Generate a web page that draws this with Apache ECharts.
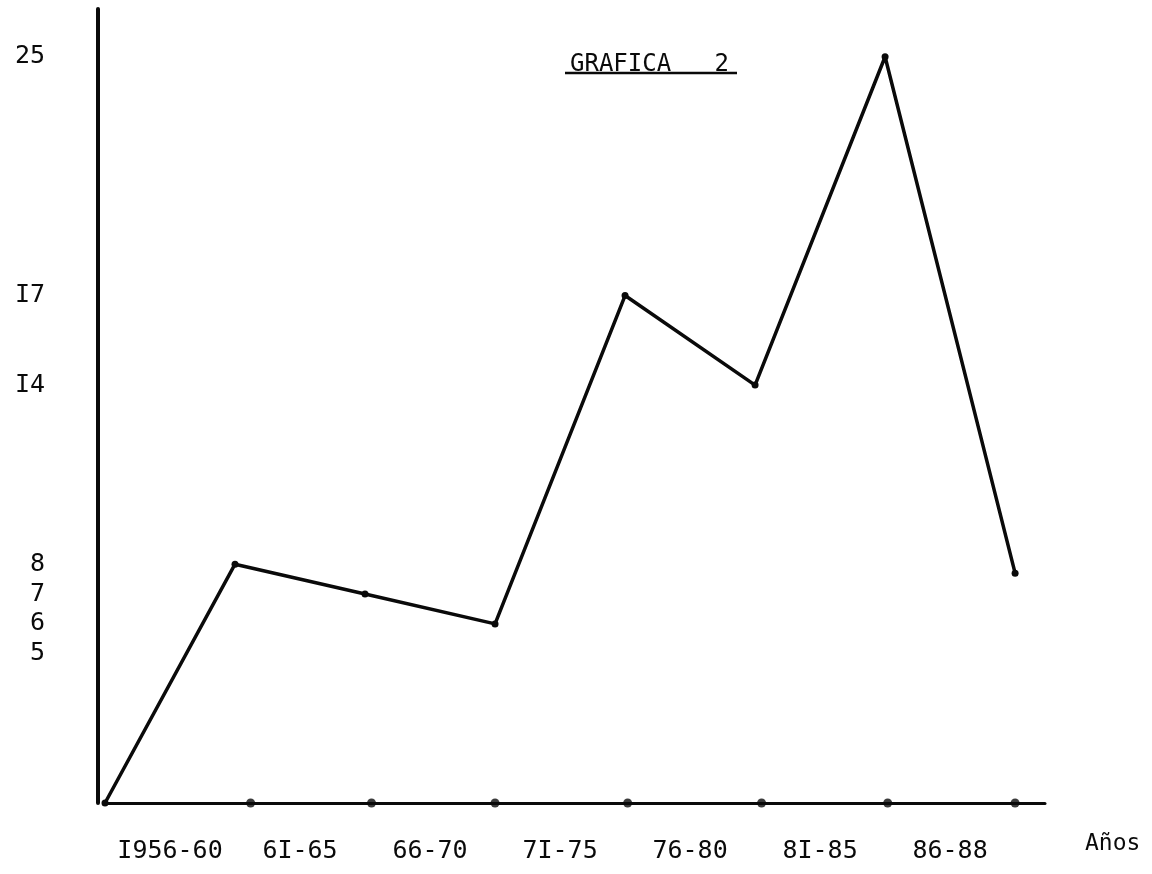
<!DOCTYPE html>
<html>
<head>
<meta charset="utf-8">
<script src="https://cdn.jsdelivr.net/npm/echarts@6/dist/echarts.min.js"></script>
<style>
html,body{margin:0;padding:0;background:#fff;}
#chart{width:1152px;height:874px;}
</style>
</head>
<body>
<div id="chart"></div>
<script>
// ---- data ----
const titleText = 'GRAFICA   2';
const periods = ['I956-60', '6I-65', '66-70', '7I-75', '76-80', '8I-85', '86-88'];
const periodLabelPos = [0.5, 1.5, 2.5, 3.5, 4.5, 5.5, 6.5];
const startValue = 0;
const values = [8, 7, 6, 17, 14, 25, 7.7];
const axisDotPos = [1.12, 2.05, 3.0, 4.02, 5.05, 6.02, 7.0];
const yTickValues = [5, 6, 7, 8, 14, 17, 25];
const yTickLabels = ['5', '6', '7', '8', 'I4', 'I7', '25'];
const xName = 'Años';

const FONT = 'DejaVu Sans Mono';
const INK = '#0a0a0a';

const lineData = [[0, startValue]].concat(values.map((v, i) => [i + 1, v]));
const dotData = axisDotPos.map(x => [x, 0]);

const chart = echarts.init(document.getElementById('chart'), null, {renderer: 'canvas'});
chart.setOption({
  animation: false,
  backgroundColor: '#ffffff',
  title: {
    text: titleText,
    left: 565,
    top: 48,
    textStyle: {fontFamily: FONT, fontSize: 24, fontWeight: 'normal', color: INK}
  },
  graphic: [{
    type: 'line',
    shape: {x1: 565, y1: 73, x2: 737, y2: 73},
    style: {stroke: INK, lineWidth: 2.5}
  }],
  grid: {left: 105, right: 107, top: 9, bottom: 71, containLabel: false},
  xAxis: {
    type: 'value',
    min: 0,
    max: 7.23,
    name: xName,
    nameLocation: 'end',
    nameGap: 40,
    nameTextStyle: {fontFamily: FONT, fontSize: 23, color: INK, verticalAlign: 'top', padding: [30, 0, 0, 0]},
    axisLine: {show: true, onZero: false, lineStyle: {color: INK, width: 3}},
    axisTick: {show: false},
    splitLine: {show: false},
    axisLabel: {
      customValues: periodLabelPos,
      formatter: (v) => {
        const i = periodLabelPos.indexOf(v);
        return i >= 0 ? periods[i] : '';
      },
      fontFamily: FONT, fontSize: 25, color: INK, margin: 36
    }
  },
  yAxis: {
    type: 'value',
    min: 0,
    max: 26.6,
    offset: 7,
    axisLine: {show: true, onZero: false, lineStyle: {color: INK, width: 4}},
    axisTick: {show: false},
    splitLine: {show: false},
    axisLabel: {
      customValues: yTickValues,
      formatter: (v) => {
        const i = yTickValues.indexOf(v);
        return i >= 0 ? yTickLabels[i] : '';
      },
      fontFamily: FONT, fontSize: 25, color: INK, margin: 53
    }
  },
  series: [
    {
      type: 'line',
      data: lineData,
      symbol: 'circle',
      symbolSize: 7,
      lineStyle: {color: INK, width: 3.5},
      itemStyle: {color: INK},
      z: 3
    },
    {
      type: 'scatter',
      data: dotData,
      symbol: 'circle',
      symbolSize: 9,
      itemStyle: {color: INK},
      z: 4
    }
  ]
});
</script>
</body>
</html>
